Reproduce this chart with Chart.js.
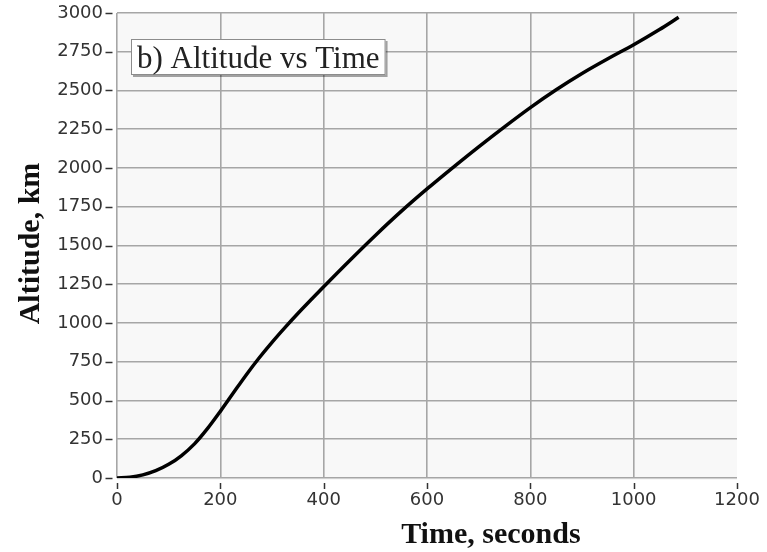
<!DOCTYPE html>
<html>
<head>
<meta charset="utf-8">
<script src="https://cdn.jsdelivr.net/npm/chart.js@4.4.1/dist/chart.umd.min.js"></script>
<style>
  html, body { margin: 0; padding: 0; background: #ffffff; }
  #wrap { width: 767px; height: 552px; }
</style>
</head>
<body>
<div id="wrap"><canvas id="chart" width="767" height="552"></canvas></div>
<script>
// Altitude of the vehicle against elapsed time
const timeSeconds = [0, 25, 50, 75, 100, 125, 150, 175, 200, 225, 250, 275, 300, 325, 350, 375, 400,
                     450, 500, 550, 600, 650, 700, 750, 800, 850, 900, 950, 1000, 1050, 1087];
const altitudeKm  = [0, 5, 20, 47, 88, 145, 220, 318, 430, 548, 665, 774, 875, 970, 1061, 1148, 1234,
                     1402, 1565, 1720, 1865, 2003, 2137, 2266, 2390, 2505, 2610, 2705, 2795, 2893, 2972];

const xTickValues = [0, 200, 400, 600, 800, 1000, 1200];
const yTickValues = [0, 250, 500, 750, 1000, 1250, 1500, 1750, 2000, 2250, 2500, 2750, 3000];

const panelLabel = 'b) Altitude vs Time';
const xTitle = 'Time, seconds';
const yTitle = 'Altitude, km';

const gridGray = '#a6a6a6';
const tickInk = '#333333';

// Plot background, outside tick dashes, axis titles and the panel label
const decorations = {
  id: 'decorations',
  beforeDraw(chart) {
    const { ctx, chartArea: a } = chart;
    ctx.save();
    ctx.fillStyle = '#f8f8f8';
    ctx.fillRect(a.left, a.top, a.right - a.left, a.bottom - a.top + 2);
    ctx.restore();
  },
  afterDraw(chart) {
    const { ctx, chartArea: a, scales } = chart;
    ctx.save();

    // short dashes beside the value labels, set off from the plot edge
    ctx.strokeStyle = tickInk;
    ctx.lineWidth = 1.5;
    scales.y.ticks.forEach((t) => {
      const y = Math.round(scales.y.getPixelForValue(t.value)) + 0.5;
      ctx.beginPath();
      ctx.moveTo(a.left - 11.5, y);
      ctx.lineTo(a.left - 4.5, y);
      ctx.stroke();
    });
    scales.x.ticks.forEach((t) => {
      const x = Math.round(scales.x.getPixelForValue(t.value)) + 0.5;
      ctx.beginPath();
      ctx.moveTo(x, a.bottom + 5);
      ctx.lineTo(x, a.bottom + 11);
      ctx.stroke();
    });

    // axis titles
    ctx.fillStyle = '#111111';
    ctx.font = 'bold 30px "Liberation Serif", "DejaVu Serif", serif';
    ctx.textAlign = 'center';
    ctx.textBaseline = 'alphabetic';
    ctx.fillText(xTitle, a.left + (a.right - a.left) * 0.603, a.bottom + 65);

    ctx.save();
    ctx.translate(39, (a.top + a.bottom) / 2 - 2);
    ctx.rotate(-Math.PI / 2);
    ctx.fillText(yTitle, 0, 0);
    ctx.restore();

    // panel label box with a soft drop shadow
    ctx.font = '31px "Liberation Serif", "DejaVu Serif", serif';
    const textW = ctx.measureText(panelLabel).width;
    const bx = a.left + 14, by = a.top + 26, bw = textW + 12, bh = 36;
    ctx.fillStyle = 'rgba(0,0,0,0.35)';
    ctx.fillRect(bx + 2, by + 2, bw, bh);
    ctx.fillStyle = '#ffffff';
    ctx.fillRect(bx, by, bw, bh);
    ctx.strokeStyle = '#8c8c8c';
    ctx.lineWidth = 1;
    ctx.strokeRect(bx + 0.5, by + 0.5, bw - 1, bh - 1);
    ctx.fillStyle = '#222222';
    ctx.textAlign = 'left';
    ctx.fillText(panelLabel, bx + 6, by + 29);

    ctx.restore();
  }
};

const plainNumber = (v) => String(v);

new Chart(document.getElementById('chart'), {
  type: 'line',
  data: {
    datasets: [{
      data: timeSeconds.map((t, i) => ({ x: t, y: altitudeKm[i] })),
      borderColor: '#000000',
      borderWidth: 3.5,
      pointRadius: 0,
      fill: false,
      cubicInterpolationMode: 'monotone'
    }]
  },
  options: {
    responsive: false,
    animation: false,
    devicePixelRatio: 1,
    layout: { padding: { top: 13, right: 30, left: 0, bottom: 0 } },
    plugins: { legend: { display: false }, tooltip: { enabled: false }, title: { display: false } },
    scales: {
      x: {
        type: 'linear',
        min: 0,
        max: 1200,
        afterBuildTicks: (s) => { s.ticks = xTickValues.map((v) => ({ value: v })); },
        afterFit: (s) => { s.height = 74; },
        border: { display: false },
        grid: {
          color: (c) => (c.tick && c.tick.value === 1200 ? 'rgba(0,0,0,0)' : gridGray),
          lineWidth: 1.6,
          drawTicks: true,
          tickLength: 10,
          tickColor: 'rgba(0,0,0,0)'
        },
        ticks: {
          padding: 2,
          color: tickInk,
          font: { family: '"DejaVu Sans", sans-serif', size: 18 },
          maxRotation: 0,
          callback: plainNumber
        }
      },
      y: {
        type: 'linear',
        min: 0,
        max: 3000,
        afterBuildTicks: (s) => { s.ticks = yTickValues.map((v) => ({ value: v })); },
        afterFit: (s) => { s.width = 117; },
        border: { display: false },
        grid: {
          color: gridGray,
          lineWidth: 1.6,
          drawTicks: true,
          tickLength: 12,
          tickColor: 'rgba(0,0,0,0)'
        },
        ticks: {
          padding: 2,
          color: tickInk,
          font: { family: '"DejaVu Sans", sans-serif', size: 18 },
          callback: plainNumber
        }
      }
    }
  },
  plugins: [decorations]
});
</script>
</body>
</html>
